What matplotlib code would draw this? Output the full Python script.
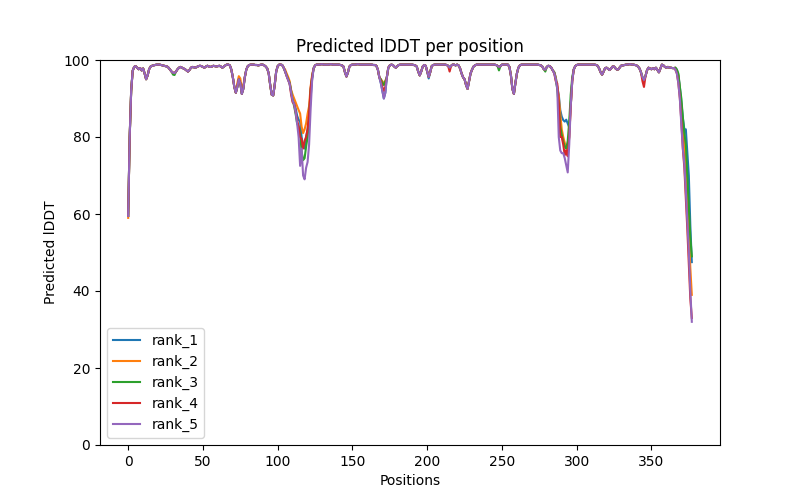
import numpy as np
import matplotlib
matplotlib.use("Agg")
import matplotlib.pyplot as plt

title = "Predicted lDDT per position"
x_label = "Positions"
y_label = "Predicted lDDT"
rank_names = ["rank_1", "rank_2", "rank_3", "rank_4", "rank_5"]

# consensus profile (rank_5), positions 0..377
base_plddt = [
    59.5, 80.0, 92.0, 97.2, 98.2, 98.4, 98.0, 97.6, 97.9, 97.3,
    97.8, 96.5, 95.0, 96.0, 97.6, 98.3, 98.5, 98.6, 98.7, 98.8,
    98.8, 98.8, 98.7, 98.6, 98.5, 98.4, 98.3, 98.0, 97.5, 97.0,
    96.7, 96.6, 97.0, 97.6, 98.0, 98.2, 98.0, 97.8, 97.6, 97.3,
    97.0, 97.4, 98.0, 98.2, 98.1, 98.0, 98.2, 98.4, 98.5, 98.4,
    98.2, 98.0, 98.3, 98.5, 98.3, 98.2, 98.3, 98.5, 98.4, 98.3,
    98.4, 98.5, 98.3, 98.0, 98.3, 98.6, 98.8, 98.8, 98.6, 97.5,
    95.5, 93.0, 91.5, 93.0, 95.0, 94.0, 91.2, 92.5, 95.5, 97.5,
    98.4, 98.7, 98.8, 98.8, 98.8, 98.7, 98.7, 98.6, 98.7, 98.8,
    98.8, 98.6, 98.3, 97.8, 96.5, 93.5, 91.0, 90.8, 93.5, 97.0,
    98.4, 98.8, 98.8, 98.7, 98.0, 97.0, 95.8, 94.8, 93.8, 91.5,
    89.5, 88.5, 86.5, 83.5, 80.0, 72.5, 77.0, 70.0, 69.0, 72.0,
    73.5, 78.0, 87.0, 94.5, 97.8, 98.6, 98.8, 98.8, 98.8, 98.9,
    98.9, 98.8, 98.8, 98.8, 98.8, 98.9, 98.9, 98.8, 98.8, 98.8,
    98.8, 98.8, 98.7, 98.6, 98.3, 96.8, 95.7, 96.8, 98.3, 98.7,
    98.8, 98.8, 98.8, 98.9, 98.9, 98.8, 98.8, 98.8, 98.8, 98.8,
    98.8, 98.8, 98.8, 98.8, 98.7, 98.7, 98.5, 97.5, 95.5, 94.0,
    92.0, 90.0, 91.5, 95.5, 98.0, 98.6, 98.8, 98.7, 98.3, 98.0,
    98.4, 98.7, 98.8, 98.8, 98.8, 98.8, 98.8, 98.8, 98.8, 98.8,
    98.8, 98.7, 98.6, 98.3, 97.0, 96.0, 97.0, 98.3, 98.7, 98.5,
    97.0, 95.6, 96.8, 98.4, 98.7, 98.8, 98.8, 98.8, 98.8, 98.8,
    98.8, 98.8, 98.8, 98.7, 98.5, 98.0, 98.5, 98.8, 98.8, 98.6,
    98.8, 98.6, 97.8, 96.5, 95.5, 95.0, 93.5, 92.5, 94.5, 96.5,
    97.5, 98.3, 98.6, 98.8, 98.8, 98.8, 98.8, 98.8, 98.8, 98.8,
    98.8, 98.8, 98.8, 98.8, 98.8, 98.8, 98.7, 98.5, 98.2, 98.4,
    98.8, 98.8, 98.8, 98.8, 98.8, 98.2, 96.0, 92.5, 91.2, 94.0,
    96.5, 98.0, 98.6, 98.8, 98.8, 98.8, 98.8, 98.8, 98.8, 98.8,
    98.8, 98.8, 98.8, 98.8, 98.8, 98.7, 98.6, 98.3, 97.6, 97.5,
    98.2, 98.5, 98.4, 98.0, 97.3, 96.5, 95.0, 92.5, 80.0, 76.5,
    75.8, 75.8, 74.5, 72.7, 70.8, 78.0, 88.0, 94.5, 97.5, 98.4,
    98.7, 98.8, 98.8, 98.8, 98.8, 98.8, 98.8, 98.8, 98.8, 98.8,
    98.8, 98.8, 98.8, 98.7, 98.5, 97.8, 96.8, 96.2, 97.0, 97.9,
    98.0, 97.7, 97.4, 97.8, 98.3, 98.3, 97.8, 97.5, 97.6, 98.2,
    98.6, 98.6, 98.7, 98.8, 98.8, 98.9, 98.9, 98.8, 98.8, 98.7,
    98.6, 98.3, 97.8, 96.8, 95.5, 94.8, 95.8, 97.3, 98.0, 97.8,
    97.6, 97.9, 97.6, 98.0, 97.4, 96.8, 97.8, 98.8, 98.6, 98.2,
    98.0, 98.2, 98.0, 98.0, 97.9, 97.9, 97.5, 96.5, 94.0, 90.0,
    83.0, 77.0, 73.0, 66.0, 58.0, 50.0, 40.0, 32.0,
]

# per-rank segments that differ from the consensus: {start position: values}
rank_1_segments = {
    105: [97.0, 96.0, 95.0, 94.0, 92.0, 90.0, 88.8, 87.5, 85.5, 84.5,
          84.0, 80.0, 77.5, 77.0, 80.0, 82.0, 85.0, 90.0, 95.0],
    201: [95.2],
    285: [96.8, 95.5, 93.0, 91.0, 87.0, 85.3, 84.4, 84.0, 84.5, 83.5,
          82.5, 88.0, 94.5, 97.5],
    366: [98.0, 97.5, 96.0, 93.0, 89.0, 85.0, 82.0, 82.0, 76.0, 70.0, 57.0, 47.5],
}
rank_2_segments = {
    0: [59.0],
    73: [94.0, 95.8, 95.2, 92.5, 93.5],
    105: [97.5, 96.5, 95.6, 94.5, 92.2, 91.0, 90.0, 89.0, 88.0, 87.0,
          86.1, 82.7, 81.0, 82.0, 83.5, 86.0, 88.0, 93.0, 96.0],
    169: [95.0, 94.5, 94.0, 94.5],
    285: [96.8, 95.5, 93.0, 90.5, 86.0, 82.0, 80.0, 78.5, 77.5, 77.0,
          80.0, 88.0, 94.5, 97.5],
    366: [98.0, 97.0, 96.0, 92.0, 87.0, 82.0, 78.0, 72.0, 65.0, 55.0, 46.0, 39.0],
}
rank_3_segments = {
    30: [96.2, 96.1],
    105: [97.0, 96.0, 95.0, 94.0, 91.8, 89.5, 88.0, 86.0, 83.5, 82.7,
          81.0, 76.2, 74.0, 74.5, 77.5, 80.0, 85.0, 92.0, 95.5],
    169: [95.0, 94.0, 93.5, 94.5],
    248: [97.3],
    279: [97.0],
    285: [96.8, 95.0, 92.5, 88.0, 82.7, 80.5, 78.8, 77.5, 77.0, 79.0,
          84.0, 91.0, 95.5, 97.5],
    366: [98.0, 97.5, 96.5, 93.0, 90.0, 85.0, 81.0, 78.0, 70.0, 62.0, 54.0, 49.0],
}
rank_4_segments = {
    105: [97.0, 95.8, 94.8, 93.8, 91.0, 89.0, 88.7, 86.5, 84.4, 82.7,
          80.0, 79.5, 77.0, 79.0, 80.0, 82.0, 86.0, 92.5, 95.5],
    169: [94.5, 93.0, 92.0, 93.0],
    215: [97.0],
    285: [96.5, 94.5, 93.9, 88.7, 80.0, 80.0, 78.0, 75.3, 76.6, 75.0,
          80.0, 88.0, 94.5, 97.5],
    344: [94.5, 93.0],
    366: [97.5, 96.5, 94.0, 90.0, 84.0, 77.0, 72.0, 64.0, 56.0, 47.0, 38.0, 33.0],
}
rank_5_segments = {}

all_segments = [rank_1_segments, rank_2_segments, rank_3_segments,
                rank_4_segments, rank_5_segments]

positions = np.arange(len(base_plddt))

fig, ax = plt.subplots(figsize=(8, 5), dpi=100)
for name, segs in zip(rank_names, all_segments):
    vals = np.array(base_plddt, dtype=float)
    for start, seg in segs.items():
        vals[start:start + len(seg)] = seg
    ax.plot(positions, vals, label=name)

ax.set_title(title)
ax.set_xlabel(x_label)
ax.set_ylabel(y_label)
ax.set_ylim(0, 100)
ax.legend(loc="lower left")
fig.savefig("out.png", dpi=100)
